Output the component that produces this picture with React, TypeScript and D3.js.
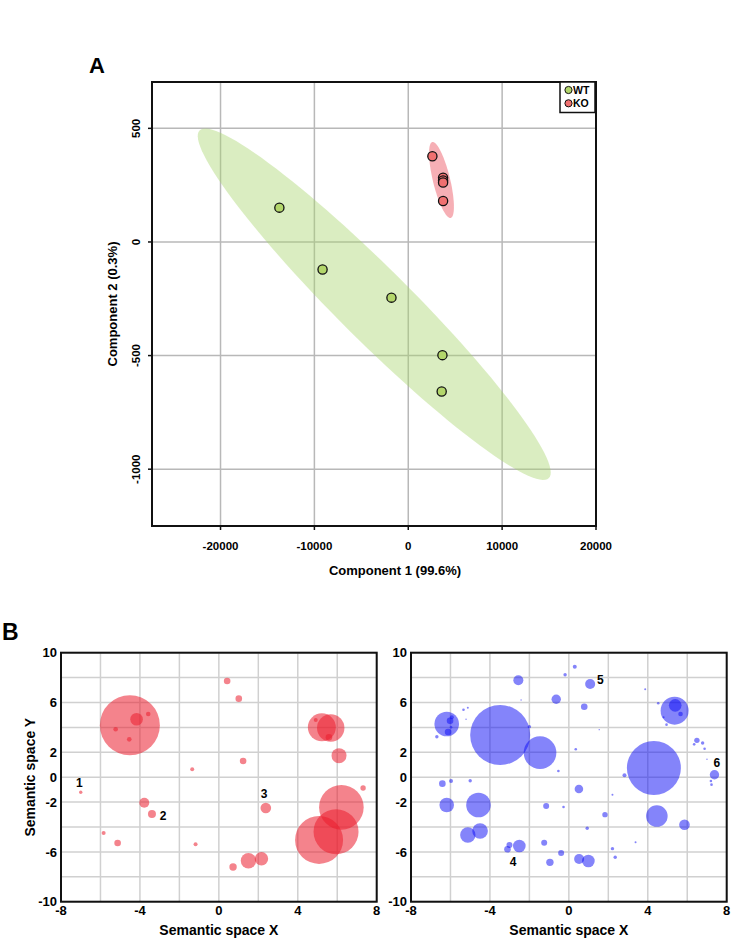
import React from "react";
import * as d3 from "d3";

// ---------- Panel A data (PCA scores) ----------
const wtX = [-13730, -9130, -1790, 3640, 3560];
const wtY = [151, -121, -245, -498, -658];
const koX = [2570, 3710, 3710, 3710, 3710];
const koY = [377, 283, 271, 262, 180];
// confidence ellipses: centre, tip of major axis (data units), minor/major ratio
const ellGroup = ["WT", "KO"];
const ellCx = [-3625, 3540];
const ellCy = [-274, 273];
const ellTipX = [-22230, 2560];
const ellTipY = [491, 440];
const ellRatio = [0.147, 0.22];
const aXTicks = [-20000, -10000, 0, 10000, 20000];
const aYTicks = [500, 0, -500, -1000];
const legendLabels = ["WT", "KO"];

// ---------- Panel B data (semantic space) ----------
const redX = [-4.51, -4.17, -3.58, -5.23, -4.54, 0.42, 1.01, 1.23, -1.35, -7.0, -3.78, -3.39, 2.38, -5.84, -5.13, -1.18, 0.72, 1.5, 2.16, 5.08, 5.94, 6.21, 7.31, 6.09, 5.22, 5.67, 4.91, 5.58];
const redY = [4.17, 4.65, 5.08, 3.85, 3.04, 7.73, 6.31, 1.3, 0.63, -1.21, -2.05, -2.96, -2.47, -4.48, -5.29, -5.39, -7.21, -6.71, -6.55, -5.04, -4.38, -2.42, -0.87, 1.73, 4.01, 3.95, 4.59, 3.2];
const redSize = [30, 6.3, 2.3, 2.3, 2.3, 3.3, 3.3, 3.3, 2, 1.7, 5, 4, 5.3, 2, 3.3, 2, 3.7, 7.7, 6.7, 24, 22.5, 22.3, 2.7, 7.5, 14, 13.7, 2, 3.3];

const blueX = [-3.48, -1.46, -6.19, -6.02, -5.93, -6.12, -5.97, -6.69, -5.34, -5.12, -5.21, -2.56, -2.42, -2.0, -0.64, -0.19, -0.53, -6.41, -5.97, -5.0, 0.3, 1.08, 0.78, 3.87, 1.54, 0.35, 5.36, 5.39, 5.66, 4.53, 4.8, 4.95, 4.31, 2.82, 6.49, 6.78, 6.35, 6.88, 7.0, 7.38, 7.2, 7.23, 0.51, 2.21, -6.19, -4.58, -5.12, -4.5, -3.11, -3.01, -2.51, -1.15, -0.27, 1.83, 0.93, 3.38, 2.21, 2.35, -1.25, -0.39, -0.96, 0.52, 0.99, 4.46, 5.86];
const blueY = [3.39, 1.97, 4.27, 4.54, 4.81, 3.63, 4.01, 3.25, 5.42, 5.58, 4.65, 7.78, 6.2, 4.06, 6.26, 8.23, 0.5, -0.52, -0.31, -0.28, 8.88, 7.49, 5.66, 7.06, 3.82, 2.24, 5.34, 5.77, 5.08, 5.94, 4.81, 4.22, 0.74, 0.15, 2.96, 2.75, 2.64, 2.29, 1.44, 0.2, -0.31, -0.6, -0.95, -1.41, -2.23, -2.23, -4.64, -4.32, -5.79, -5.45, -5.53, -2.31, -2.39, -3.01, -4.1, -5.23, -5.74, -6.43, -5.26, -6.09, -6.84, -6.57, -6.73, -3.12, -3.82];
const blueSize = [30, 16.3, 12.3, 3.3, 2, 3.3, 1.3, 1.7, 1.3, 1, 0.7, 5, 0.7, 1.7, 4.7, 1.7, 1.3, 3.3, 2, 1.7, 2, 5, 3.3, 1, 0.7, 1.3, 14, 6.3, 2.3, 1.3, 1, 1.3, 27, 2, 2.7, 1.7, 1.3, 1.3, 0.7, 4.7, 1.3, 1.3, 4.3, 1, 7.3, 12.3, 7.7, 7.8, 3.3, 3, 6.3, 3, 1.3, 2.7, 1.7, 1, 1.7, 1.7, 3, 3, 3.7, 5, 6.3, 10.8, 5.3];

const redLabels = ["1", "2", "3"];
const redLabelX = [-7.07, -2.82, 2.29];
const redLabelY = [-0.44, -3.12, -1.35];
const blueLabels = ["4", "5", "6"];
const blueLabelX = [-2.82, 1.6, 7.5];
const blueLabelY = [-6.76, 7.86, 1.16];

const bXTicks = [-8, -4, 0, 4, 8];
const bYTicks = [10, 6, 2, 0, -2, -6, -10];
const bGrid = [-8, -6, -4, -2, 0, 2, 4, 6, 8];
const bGridY = [-10, -8, -6, -4, -2, 0, 2, 4, 6, 8, 10];

const FONT = "'Liberation Sans', Arial, Helvetica, sans-serif";

function ellipsePath(sx: any, sy: any, cx: number, cy: number, tx: number, ty: number, k: number) {
  const c = [sx(cx), sy(cy)];
  const u = [sx(tx) - c[0], sy(ty) - c[1]];
  const v = [-u[1] * k, u[0] * k];
  const pts = d3.range(0, 120).map((i) => {
    const t = (i / 120) * Math.PI * 2;
    return [c[0] + u[0] * Math.cos(t) + v[0] * Math.sin(t), c[1] + u[1] * Math.cos(t) + v[1] * Math.sin(t)] as [number, number];
  });
  return d3.line().curve(d3.curveLinearClosed)(pts) || "";
}

function PanelA() {
  const L = 152, R = 596, T = 82, B = 526;
  const sx = d3.scaleLinear().domain([-27300, 20000]).range([L, R]);
  const sy = d3.scaleLinear().domain([-1250, 704]).range([B, T]);
  const ellFill = ["#a8d46c", "#ee6d78"];
  const ellOp = [0.42, 0.55];
  return (
    <g>
      <text x={89} y={73} fontFamily={FONT} fontWeight="bold" fontSize={22}>A</text>
      {aXTicks.filter((t) => t < 20000).map((t) => (
        <line key={"gx" + t} x1={sx(t)} x2={sx(t)} y1={T} y2={B} stroke="#b8b8b8" strokeWidth={1.5} />
      ))}
      {aYTicks.map((t) => (
        <line key={"gy" + t} x1={L} x2={R} y1={sy(t)} y2={sy(t)} stroke="#b8b8b8" strokeWidth={1.5} />
      ))}
      {ellGroup.map((g, i) => (
        <path key={g} d={ellipsePath(sx, sy, ellCx[i], ellCy[i], ellTipX[i], ellTipY[i], ellRatio[i])} fill={ellFill[i]} fillOpacity={ellOp[i]} />
      ))}
      {wtX.map((x, i) => (
        <circle key={"wt" + i} cx={sx(x)} cy={sy(wtY[i])} r={4.6} fill="#b3d66b" stroke="#111" strokeWidth={1.3} />
      ))}
      {koX.map((x, i) => (
        <circle key={"ko" + i} cx={sx(x)} cy={sy(koY[i])} r={4.6} fill="#f07070" stroke="#111" strokeWidth={1.3} />
      ))}
      <rect x={L} y={T} width={R - L} height={B - T} fill="none" stroke="#111" strokeWidth={2} />
      {aXTicks.map((t) => (
        <g key={"tx" + t}>
          <line x1={sx(t)} x2={sx(t)} y1={B} y2={B + 4} stroke="#111" strokeWidth={1.5} />
          <text x={sx(t)} y={550} textAnchor="middle" fontFamily={FONT} fontWeight="bold" fontSize={11.5}>{t}</text>
        </g>
      ))}
      {aYTicks.map((t) => (
        <g key={"ty" + t}>
          <line x1={L - 4} x2={L} y1={sy(t)} y2={sy(t)} stroke="#111" strokeWidth={1.5} />
          <text transform={`translate(140,${sy(t)}) rotate(-90)`} textAnchor="middle" fontFamily={FONT} fontWeight="bold" fontSize={11.5}>{t}</text>
        </g>
      ))}
      <text x={395} y={575} textAnchor="middle" fontFamily={FONT} fontWeight="bold" fontSize={13}>Component 1 (99.6%)</text>
      <text transform={`translate(116.5,${(T + B) / 2}) rotate(-90)`} textAnchor="middle" fontFamily={FONT} fontWeight="bold" fontSize={13}>Component 2 (0.3%)</text>
      <rect x={560} y={82} width={35} height={30.5} fill="#fff" stroke="#111" strokeWidth={1.5} />
      {legendLabels.map((lab, i) => (
        <g key={lab}>
          <circle cx={568.5} cy={90 + i * 13.3} r={3.6} fill={i === 0 ? "#b3d66b" : "#f07070"} stroke="#111" strokeWidth={1} />
          <text x={573} y={94 + i * 13.3} fontFamily={FONT} fontWeight="bold" fontSize={10.5}>{lab}</text>
        </g>
      ))}
    </g>
  );
}

function Bubbles(props: { L: number; R: number; xs: number[]; ys: number[]; ss: number[]; fill: string; op: number; labs: string[]; lx: number[]; ly: number[]; ylab: boolean }) {
  const { L, R } = props;
  const T = 652.7, B = 901.7;
  const sx = d3.scaleLinear().domain([-8, 8]).range([L, R]);
  const sy = d3.scaleLinear().domain([-10, 10]).range([B, T]);
  const sr = d3.scaleLinear().domain([0, 30]).range([0, 30]);
  const order = d3.range(props.xs.length).sort((a, b) => props.ss[b] - props.ss[a]);
  return (
    <g>
      {bGrid.map((t) => (
        <line key={"gx" + t} x1={sx(t)} x2={sx(t)} y1={T} y2={B} stroke="#d0d0d0" strokeWidth={1.5} />
      ))}
      {bGridY.map((t) => (
        <line key={"gy" + t} x1={L} x2={R} y1={sy(t)} y2={sy(t)} stroke="#d0d0d0" strokeWidth={1.5} />
      ))}
      {order.map((i) => (
        <circle key={i} cx={sx(props.xs[i])} cy={sy(props.ys[i])} r={sr(props.ss[i])} fill={props.fill} fillOpacity={props.op} />
      ))}
      {props.labs.map((l, i) => (
        <text key={l} x={sx(props.lx[i])} y={sy(props.ly[i])} dy="0.36em" textAnchor="middle" fontFamily={FONT} fontWeight="bold" fontSize={12}>{l}</text>
      ))}
      <rect x={L} y={T} width={R - L} height={B - T} fill="none" stroke="#111" strokeWidth={2} />
      {bXTicks.map((t) => (
        <text key={"tx" + t} x={sx(t)} y={915} textAnchor="middle" fontFamily={FONT} fontWeight="bold" fontSize={13}>{t}</text>
      ))}
      {bYTicks.map((t) => (
        <text key={"ty" + t} x={L - 4} y={sy(t)} dy="0.36em" textAnchor="end" fontFamily={FONT} fontWeight="bold" fontSize={13}>{t}</text>
      ))}
      <text x={(L + R) / 2} y={935} textAnchor="middle" fontFamily={FONT} fontWeight="bold" fontSize={14}>Semantic space X</text>
      {props.ylab && (
        <text transform={`translate(35,${(T + B) / 2}) rotate(-90)`} textAnchor="middle" fontFamily={FONT} fontWeight="bold" fontSize={14}>Semantic space Y</text>
      )}
    </g>
  );
}

export default function App() {
  return (
    <svg width={731} height={939} style={{ position: "absolute", left: 0, top: 0, background: "#fff" }}>
      <rect x={0} y={0} width={731} height={939} fill="#fff" />
      <PanelA />
      <text x={2} y={640} fontFamily={FONT} fontWeight="bold" fontSize={23}>B</text>
      <Bubbles L={61} R={376.7} xs={redX} ys={redY} ss={redSize} fill="rgb(235,30,45)" op={0.55} labs={redLabels} lx={redLabelX} ly={redLabelY} ylab={true} />
      <Bubbles L={411} R={726.7} xs={blueX} ys={blueY} ss={blueSize} fill="rgb(10,10,245)" op={0.5} labs={blueLabels} lx={blueLabelX} ly={blueLabelY} ylab={false} />
    </svg>
  );
}
